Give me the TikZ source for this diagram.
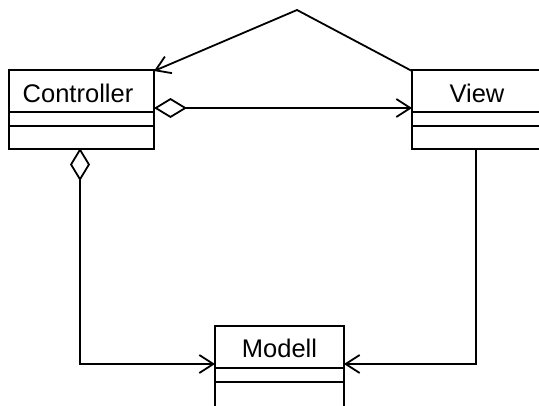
\documentclass[tikz,border=0pt]{standalone}
\usepackage{fontspec}
\setmainfont{Liberation Sans}
\usetikzlibrary{arrows.meta}
\begin{document}
\begin{tikzpicture}[x=1pt,y=-1pt,line width=1.8pt,
  lbl/.style={font=\fontsize{25.5}{28}\selectfont,inner sep=0pt},
  assoc/.style={-{Straight Barb[length=14pt,width=18pt,line width=1.8pt]}},
  aggr/.style={{Diamond[open,fill=white,length=33pt,width=20pt,line width=1.8pt]}-{Straight Barb[length=14pt,width=18pt,line width=1.8pt]}}]
  \useasboundingbox (0,0) rectangle (539,405);
  \clip (0,0) rectangle (539,405);
  % class boxes
  \draw (9,70) rectangle (154,149);
  \draw (9,112) -- (154,112) (9,126) -- (154,126);
  \node[lbl] (ctrl) at (78,93) {Controller};
  \coordinate (ctrlTR) at (154,71);
  \coordinate (ctrlR) at (154,108);
  \coordinate (ctrlB) at (80,148);

  \draw (412,70) rectangle (560,149);
  \draw (412,112) -- (560,112) (412,126) -- (560,126);
  \node[lbl] (view) at (477,93) {View};
  \coordinate (viewTL) at (412,71);
  \coordinate (viewL) at (412,108);
  \coordinate (viewB) at (476,149);

  \draw (215,326) rectangle (344,410);
  \draw (215,368) -- (344,368) (215,382) -- (344,382);
  \node[lbl] (modell) at (279.5,348) {Modell};
  \coordinate (modL) at (215,364);
  \coordinate (modR) at (344,364);

  % connectors
  \coordinate (apex) at (297,10);
  \draw[assoc] (viewTL) -- (apex) -- (ctrlTR);
  \draw[aggr] (ctrlR) -- (viewL);
  \draw[aggr] (ctrlB) |- (modL);
  \draw[assoc] (viewB) |- (modR);
\end{tikzpicture}
\end{document}
